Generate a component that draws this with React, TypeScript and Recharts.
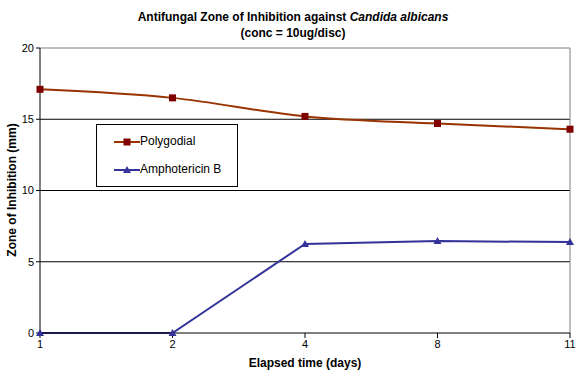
import { LineChart, Line, XAxis, YAxis, CartesianGrid, ReferenceLine } from 'recharts';

const days = ['1', '2', '4', '8', '11'];
const polygodial = [17.1, 16.5, 15.2, 14.7, 14.3];
const amphotericin = [0, 0, 6.25, 6.45, 6.38];
const yTicks = [0, 5, 10, 15, 20];

const FONT = '"Liberation Sans", Arial, sans-serif';
const POLY_LINE = '#993300';
const POLY_MARK = '#800000';
const AMPH = '#333399';

const chartData = days.map((d, i) => ({ day: d, polygodial: polygodial[i], amphotericin: amphotericin[i] }));

const SquareDot = (props: any) => {
  const { cx, cy } = props;
  return <rect x={cx - 3.5} y={cy - 3.5} width={7} height={7} fill={POLY_MARK} />;
};

const TriangleDot = (props: any) => {
  const { cx, cy } = props;
  return <path d={`M${cx},${cy - 4} L${cx + 4},${cy + 3} L${cx - 4},${cy + 3} Z`} fill={AMPH} />;
};

// legend drawn by hand, placed over the plot like the original
const LegendBox = () => (
  <div style={{ position: 'absolute', left: 96, top: 124, border: '1px solid #000', width: 142, height: 63, background: '#fff', fontFamily: FONT, fontSize: 12, boxSizing: 'border-box', zIndex: 2 }}>
    <svg width={40} height={60} style={{ position: 'absolute', left: 17, top: 0 }}>
      <line x1={0} y1={17} x2={26} y2={17} stroke={POLY_LINE} strokeWidth={2} />
      <rect x={9.5} y={13.5} width={7} height={7} fill={POLY_MARK} />
      <line x1={0} y1={45} x2={26} y2={45} stroke={AMPH} strokeWidth={2} />
      <path d="M13,41 L17,48 L9,48 Z" fill={AMPH} />
    </svg>
    <div style={{ position: 'absolute', left: 43, top: 9 }}>Polygodial</div>
    <div style={{ position: 'absolute', left: 43, top: 37 }}>Amphotericin B</div>
  </div>
);

export default function App() {
  return (
    <div style={{ position: 'absolute', left: 0, top: 0, width: 586, height: 377, background: '#fff', fontFamily: FONT }}>
      <div style={{ position: 'absolute', left: 0, width: 586, top: 9, textAlign: 'center', fontWeight: 700, fontSize: 12, lineHeight: '16px' }}>
        Antifungal Zone of Inhibition against <i>Candida albicans</i>
        <br />
        (conc = 10ug/disc)
      </div>
      <div style={{ position: 'absolute', left: 0, top: 356, width: 610, textAlign: 'center', fontWeight: 700, fontSize: 12 }}>
        Elapsed time (days)
      </div>
      <div style={{ position: 'absolute', left: 12, top: 190, transform: 'translate(-50%, -50%) rotate(-90deg)', whiteSpace: 'nowrap', fontWeight: 700, fontSize: 12 }}>
        Zone of Inhibition (mm)
      </div>
      <LineChart width={586} height={377} data={chartData} margin={{ top: 48, right: 16, left: 0, bottom: 0 }}>
        <CartesianGrid vertical={false} stroke="#000" horizontalValues={[5, 10, 15]} />
        <ReferenceLine y={20} stroke="#808080" />
        <ReferenceLine x="11" stroke="#808080" />
        <XAxis
          dataKey="day"
          height={44}
          axisLine={{ stroke: '#000' }}
          tickLine={{ stroke: '#000' }}
          tickSize={5}
          tick={{ fontSize: 11, fill: '#000', fontFamily: FONT }}
          interval={0}
        />
        <YAxis
          width={40}
          domain={[0, 20]}
          ticks={yTicks}
          axisLine={{ stroke: '#000' }}
          tickLine={{ stroke: '#000' }}
          tickSize={4}
          tick={{ fontSize: 11, fill: '#000', fontFamily: FONT }}
        />
        <Line type="monotone" dataKey="polygodial" name="Polygodial" stroke={POLY_LINE} strokeWidth={2} dot={<SquareDot />} isAnimationActive={false} />
        <Line dataKey="amphotericin" name="Amphotericin B" stroke={AMPH} strokeWidth={2} dot={<TriangleDot />} isAnimationActive={false} />
      </LineChart>
      <LegendBox />
    </div>
  );
}
